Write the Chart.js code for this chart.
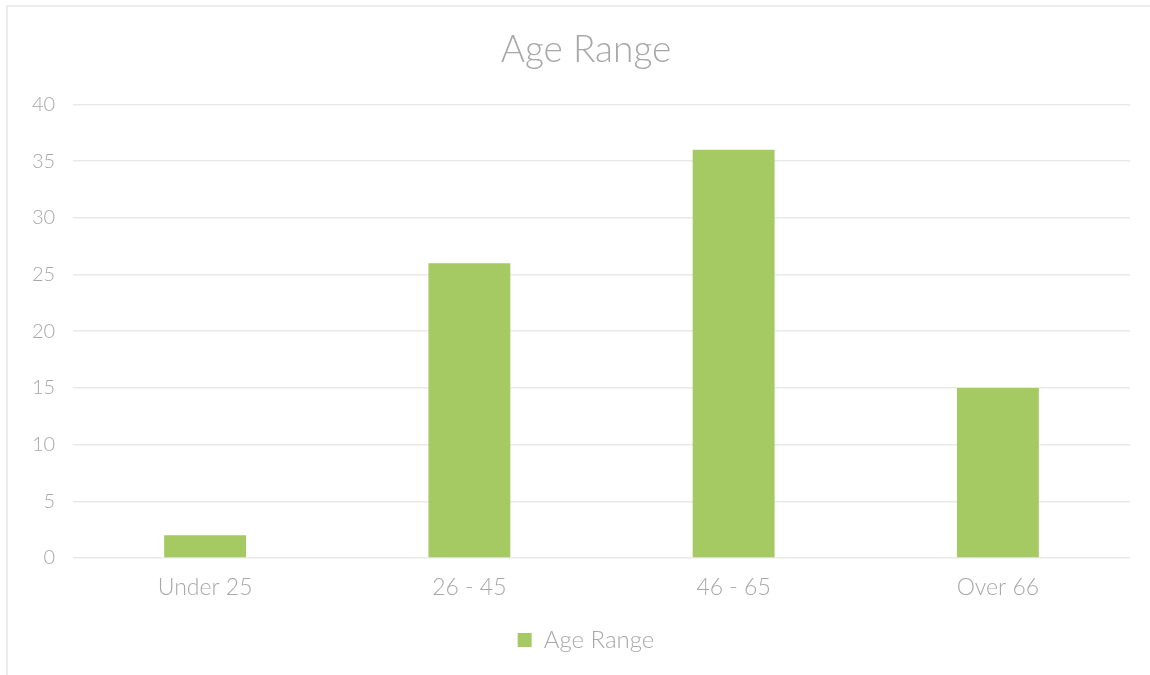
<!DOCTYPE html>
<html>
<head>
<meta charset="utf-8">
<script src="https://cdn.jsdelivr.net/npm/chart.js@4.4.1/dist/chart.umd.min.js"></script>
<style>
    body { margin: 0; background: #fff; }
    #frame {
        position: absolute; left: 6px; top: 5px;
        width: 1150px; height: 675px;
        border-top: 2px solid #ececec;
        border-left: 2px solid #ececec;
    }
    #wrap { position: absolute; left: 0; top: 0; width: 1150px; height: 675px; }
</style>
</head>
<body>
<div id="frame"></div>
<div id="wrap"><canvas id="myChart"></canvas></div>
<script>
/* Chart data */
const categories = ["Under 25", "26 - 45", "46 - 65", "Over 66"];
const ageCounts = [2, 26, 36, 15];
const seriesName = "Age Range";

const textGrey = '#a8a8a8';
const barGreen = '#a5c963';
const fontFamily = "Lato, 'Open Sans', sans-serif";

const ctx = document.getElementById('myChart');
new Chart(ctx, {
    type: 'bar',
    data: {
        labels: categories,
        datasets: [{
            label: seriesName,
            data: ageCounts,
            backgroundColor: barGreen,
            borderWidth: 0,
            categoryPercentage: 1,
            barPercentage: 0.31
        }]
    },
    options: {
        responsive: true,
        maintainAspectRatio: false,
        animation: false,
        // left padding pushes title/legend centre to the right like the original
        layout: { padding: { left: 42, right: 20, top: 0, bottom: 13 } },
        scales: {
            x: {
                grid: { display: false, drawTicks: false },
                border: { display: false },
                ticks: {
                    color: textGrey,
                    padding: 16,
                    font: { family: fontFamily, size: 23, weight: 300 }
                },
                // leave room between axis labels and legend
                afterFit: function(scale) { scale.height = 60; }
            },
            y: {
                min: 0,
                max: 40,
                ticks: {
                    stepSize: 5,
                    color: textGrey,
                    // mirrored so the labels are not clipped to the narrow axis box
                    mirror: true,
                    crossAlign: 'far',
                    padding: -41,
                    font: { family: fontFamily, size: 20, weight: 300 }
                },
                grid: { color: '#e9e9e9', lineWidth: 1.6, drawTicks: false },
                border: { display: false },
                afterFit: function(scale) { scale.width = 31; }
            }
        },
        plugins: {
            title: {
                display: true,
                text: seriesName,
                color: textGrey,
                padding: { top: 28, bottom: 32 },
                font: { family: fontFamily, size: 37, weight: 300 }
            },
            legend: {
                position: 'bottom',
                labels: {
                    color: textGrey,
                    boxWidth: 14,
                    boxHeight: 14,
                    padding: 10,
                    font: { family: fontFamily, size: 24, weight: 300 }
                }
            },
            tooltip: { enabled: false }
        }
    }
});
</script>
</body>
</html>
